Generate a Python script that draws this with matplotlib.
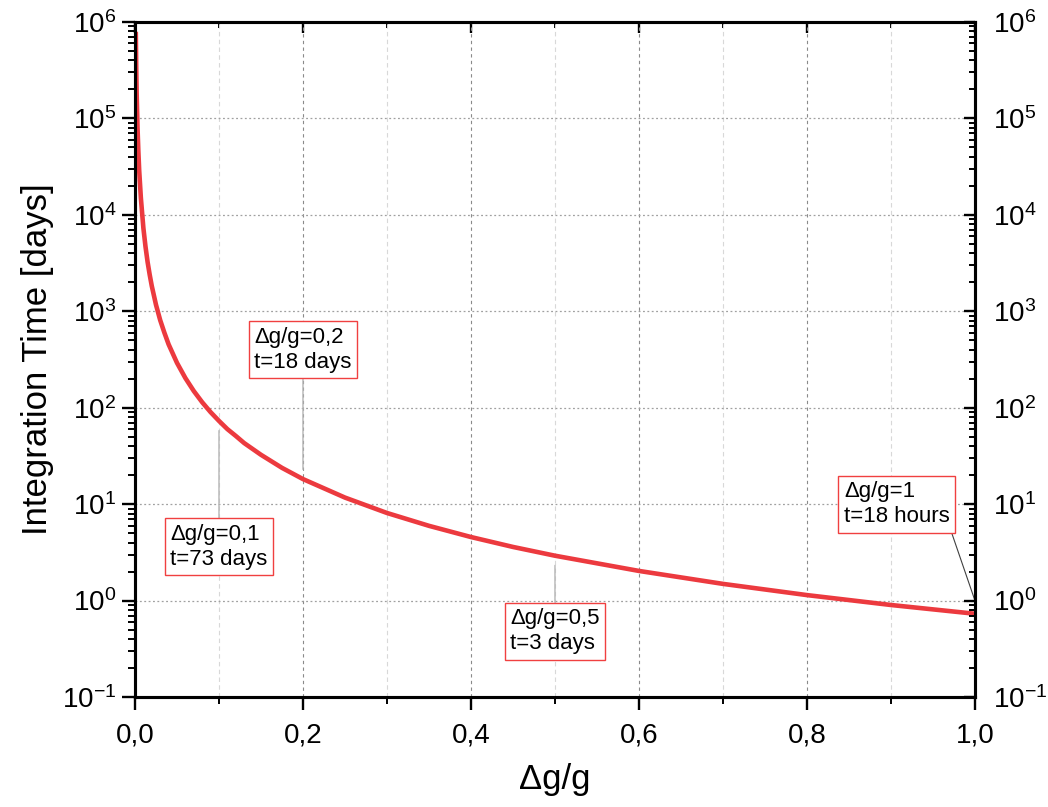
import matplotlib
matplotlib.use("Agg")
import matplotlib.pyplot as plt
from matplotlib.ticker import FuncFormatter, MultipleLocator, LogLocator, NullFormatter
import numpy as np

plt.rcParams['font.family'] = ['Liberation Sans', 'DejaVu Sans']
plt.rcParams['mathtext.fontset'] = 'custom'
plt.rcParams['mathtext.rm'] = 'Liberation Sans'
plt.rcParams['mathtext.it'] = 'Liberation Sans'

# values
dg = [0.001, 0.0015, 0.002, 0.003, 0.004, 0.005, 0.007, 0.01, 0.0125, 0.015,
      0.0175, 0.02, 0.025, 0.03, 0.035, 0.04, 0.05, 0.06, 0.07, 0.08, 0.09,
      0.1, 0.11, 0.12, 0.13, 0.15, 0.175, 0.2, 0.25, 0.3, 0.35, 0.4, 0.45,
      0.5, 0.6, 0.7, 0.8, 0.9, 1.0]
t_days = [7.5e5, 3.3e5, 1.8e5, 8.1e4, 4.6e4, 2.9e4, 1.5e4, 7300, 4700, 3250,
          2400, 1830, 1170, 810, 600, 455, 292, 203, 149, 114, 90,
          73, 60, 51, 43, 32.5, 23.8, 18.2, 11.7, 8.1, 5.96, 4.56, 3.6,
          2.92, 2.03, 1.49, 1.14, 0.9, 0.73]

ann_x = [0.1, 0.2, 0.5]
ann_y = [73, 18.2, 2.92]
ann_text = ["\u0394g/g=0,1\nt=73 days", "\u0394g/g=0,2\nt=18 days", "\u0394g/g=0,5\nt=3 days"]
ann_box_y = [3.6, 400, 0.48]
last_text = "\u0394g/g=1\nt=18 hours"

fig = plt.figure(figsize=(10.48, 8.07), dpi=100)
ax = fig.add_axes([0.1288, 0.1363, 0.8015, 0.8364])

ax.plot(dg, t_days, color='#ec3a3f', lw=3.3, zorder=5)
ax.set_yscale('log')
ax.set_xlim(0, 1)
ax.set_ylim(1e-1, 1e6)

ax.xaxis.set_major_locator(MultipleLocator(0.2))
ax.xaxis.set_minor_locator(MultipleLocator(0.1))
ax.xaxis.set_major_formatter(FuncFormatter(lambda v, p: f"{v:.1f}".replace('.', ',')))
ax.yaxis.set_major_locator(LogLocator(base=10, numticks=20))
ax.yaxis.set_minor_locator(LogLocator(base=10, subs=np.arange(2, 10), numticks=20))
ax.yaxis.set_minor_formatter(NullFormatter())

ax.grid(which='major', axis='x', color='#8a8a8a', ls=(0, (3, 3)), lw=0.8)
ax.grid(which='minor', axis='x', color='#d8d8d8', ls=(0, (4, 3)), lw=0.8)
ax.grid(which='major', axis='y', color='#a0a0a0', ls=(0, (1.5, 2)), lw=0.9)

for s in ax.spines.values():
    s.set_linewidth(2.2)
ax.tick_params(which='major', direction='out', length=9.5, width=1.7, labelsize=20, pad=4,
               top=False, right=False)
ax.tick_params(which='minor', direction='out', length=5, width=1.4, top=False, right=False)
ax.tick_params(axis='x', which='major', pad=9)

ax2 = ax.twinx()
ax2.set_yscale('log')
ax2.set_ylim(1e-1, 1e6)
ax2.yaxis.set_major_locator(LogLocator(base=10, numticks=20))
ax2.yaxis.set_minor_locator(LogLocator(base=10, subs=np.arange(2, 10), numticks=20))
ax2.yaxis.set_minor_formatter(NullFormatter())
ax2.tick_params(which='major', direction='in', length=8, width=1.7, labelsize=20, pad=13)
ax2.tick_params(which='minor', direction='in', length=4.5, width=1.4)
for s in ax2.spines.values():
    s.set_linewidth(2.2)

axt = ax.secondary_xaxis('top')
axt.xaxis.set_major_locator(MultipleLocator(0.2))
axt.xaxis.set_minor_locator(MultipleLocator(0.1))
axt.tick_params(which='major', direction='in', length=8, width=1.7, labeltop=False)
axt.tick_params(which='minor', direction='in', length=4.5, width=1.4)

ax.set_xlabel("\u0394g/g", fontsize=25, labelpad=10)
ax.set_ylabel("Integration Time [days]", fontsize=25, labelpad=6)

box = dict(boxstyle='square,pad=0.25', fc='white', ec='#f04040', lw=1.0)
for x, y, txt, by in zip(ann_x, ann_y, ann_text, ann_box_y):
    ax.annotate(txt, xy=(x, y), xytext=(x, by), ha='center', va='center',
                multialignment='left', fontsize=16, linespacing=1.25, bbox=box, zorder=6,
                arrowprops=dict(arrowstyle='-', color='#b5b5b5', lw=1.0,
                                shrinkA=0, shrinkB=7))

ax.annotate(last_text, xy=(dg[-1], 1.0), xytext=(0.907, 10), ha='center', va='center',
            multialignment='left', fontsize=16, linespacing=1.25, bbox=box, zorder=6,
            arrowprops=dict(arrowstyle='-', color='#404040', lw=0.8,
                            shrinkA=0, shrinkB=0, relpos=(1, 0)))

fig.savefig("out.png", dpi=100)
